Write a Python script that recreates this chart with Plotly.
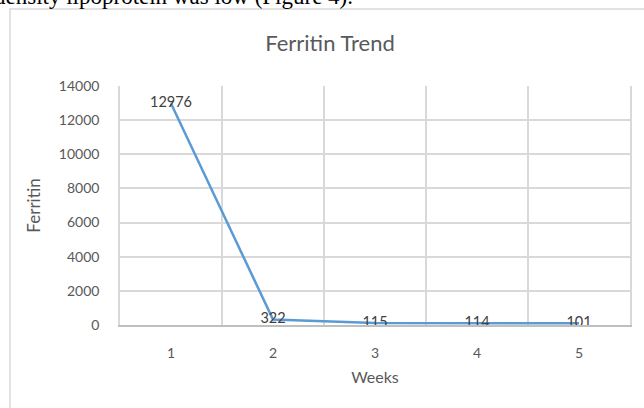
import plotly.graph_objects as go

weeks = [1, 2, 3, 4, 5]
ferritin = [12976, 322, 115, 114, 101]
y_ticks = [0, 2000, 4000, 6000, 8000, 10000, 12000, 14000]

W, H = 644, 408
ML, MR, MT, MB = 120, 14, 86, 83
PW, PH = W - ML - MR, H - MT - MB


def px_x(px):
    return (px - ML) / PW


def px_y(px):
    return 1 - (px - MT) / PH


FONT = "Lato"
GREY = "#595959"
GRID = "#d9d9d9"

fig = go.Figure()
fig.add_trace(go.Scatter(
    x=weeks, y=ferritin,
    mode="lines+text",
    line=dict(color="#5B9BD5", width=2.5),
    text=[str(v) for v in ferritin],
    textposition="middle center",
    textfont=dict(family=FONT, size=14.5, color="#404040"),
    hoverinfo="x+y",
    showlegend=False,
    cliponaxis=False,
))

fig.update_layout(
    width=W, height=H,
    margin=dict(l=ML, r=MR, t=MT, b=MB, pad=0),
    paper_bgcolor="white", plot_bgcolor="white",
    font=dict(family=FONT, color=GREY),
    title=dict(text="Ferritin Trend", xref="container", x=330 / W, xanchor="center",
               yref="container", y=1 - 43 / H, yanchor="middle",
               font=dict(family=FONT, size=22, color=GREY)),
    xaxis=dict(
        range=[0.5, 5.5], tickvals=weeks, ticktext=[str(w) for w in weeks],
        showgrid=False, zeroline=False,
        showline=True, linecolor="#bfbfbf", linewidth=1.5,
        ticks="", ticklabelstandoff=14,
        tickfont=dict(family=FONT, size=14, color=GREY),
        minor=dict(tick0=0.5, dtick=1, showgrid=True, gridcolor=GRID, gridwidth=1.5),
        title=dict(text="Weeks", standoff=12,
                   font=dict(family=FONT, size=16, color=GREY)),
        fixedrange=True,
    ),
    yaxis=dict(
        range=[0, 14000], tickvals=y_ticks, ticktext=[str(v) for v in y_ticks],
        showgrid=True, gridcolor=GRID, gridwidth=1.5, zeroline=False,
        showline=True, linecolor=GRID, linewidth=1.5, mirror=True,
        ticks="", ticklabelstandoff=16,
        tickfont=dict(family=FONT, size=14, color=GREY),
        title=dict(text="Ferritin", standoff=14,
                   font=dict(family=FONT, size=17, color=GREY)),
        fixedrange=True,
    ),
)

# chart frame around the whole figure area
fig.add_shape(type="rect", xref="paper", yref="paper",
              x0=px_x(10), x1=px_x(700), y0=px_y(460), y1=px_y(9),
              line=dict(color=GRID, width=1.5), fillcolor="rgba(0,0,0,0)",
              layer="below")

# running text of the page above the chart
fig.add_annotation(text="density lipoprotein was low (Figure 4).",
                   xref="paper", yref="paper",
                   x=px_x(355), y=px_y(11), xanchor="right", yanchor="bottom",
                   showarrow=False,
                   font=dict(family="Liberation Serif", size=23, color="black"))

fig.write_html("out.html")
